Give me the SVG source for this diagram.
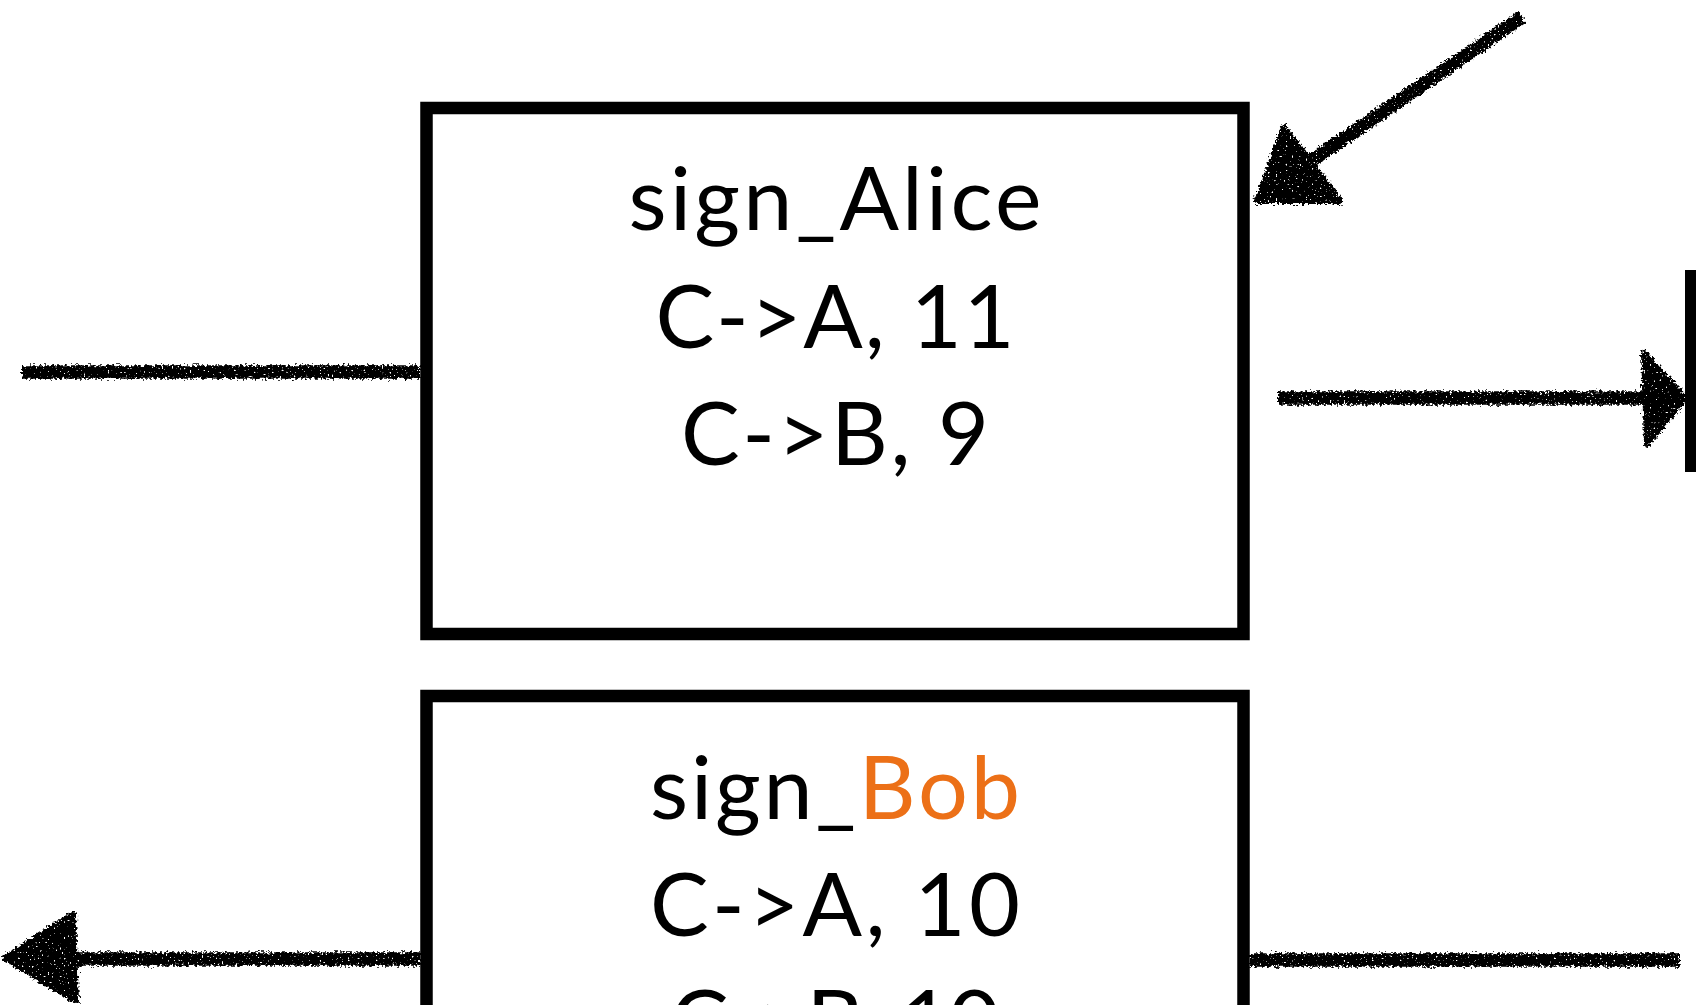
<svg xmlns="http://www.w3.org/2000/svg" width="1696" height="1005" viewBox="0 0 1696 1005">
<style>
  .box { fill: #ffffff; stroke: #000000; stroke-width: 12.5; }
  .lbl { font-family: "Lato", "Open Sans", "Liberation Sans", sans-serif; font-size: 88px; fill: #000000; text-anchor: middle; }
  .orange { fill: #EC7017; }
  .chalk { stroke: #000000; stroke-width: 13.5; stroke-linecap: butt; fill: none; }
  .head { fill: #000000; stroke: #000000; stroke-width: 6; stroke-linejoin: round; }
</style>
<defs>
  <filter id="rough" filterUnits="userSpaceOnUse" x="0" y="0" width="1696" height="1005">
    <feTurbulence type="fractalNoise" baseFrequency="0.4" numOctaves="2" seed="3" result="noise"/>
    <feDisplacementMap in="SourceGraphic" in2="noise" scale="8" xChannelSelector="R" yChannelSelector="G" result="disp"/>
    <feTurbulence type="fractalNoise" baseFrequency="0.5" numOctaves="1" seed="7" result="speck"/>
    <feColorMatrix in="speck" type="matrix" values="0 0 0 0 0  0 0 0 0 0  0 0 0 0 0  18 0 0 0 -12.2" result="holes"/>
    <feComposite in="disp" in2="holes" operator="out"/>
  </filter>
</defs>
<rect width="1696" height="1005" fill="#ffffff"/>

<g id="connectors" filter="url(#rough)">
  <line class="chalk" x1="22" y1="372" x2="420" y2="372"/>
  <line class="chalk" x1="1522" y1="17" x2="1305" y2="165"/>
  <polygon class="head" points="1257,201 1284,127 1340,201"/>
  <line class="chalk" x1="1278" y1="398" x2="1650" y2="398"/>
  <polygon class="head" points="1685,398 1644,353 1647,444"/>
  <line class="chalk" x1="420" y1="959" x2="70" y2="959"/>
  <polygon class="head" points="5,958 73,914 76,1001"/>
  <line class="chalk" x1="1250" y1="960" x2="1680" y2="960"/>
</g>

<g id="node-right-edge">
  <rect x="1685" y="270" width="11" height="202" fill="#000000"/>
</g>

<g id="node-sign-alice">
  <rect class="box" x="426.5" y="108" width="817" height="526"/>
  <text class="lbl" x="835" y="230" textLength="413">sign_Alice</text>
  <text class="lbl" x="835" y="348" textLength="359">C-&gt;A, 11</text>
  <text class="lbl" x="835" y="465" textLength="308">C-&gt;B, 9</text>
</g>

<g id="node-sign-bob">
  <rect class="box" x="426.5" y="696" width="817" height="400"/>
  <text class="lbl" x="835" y="819" textLength="370">sign_<tspan class="orange">Bob</tspan></text>
  <text class="lbl" x="835" y="936" textLength="370">C-&gt;A, 10</text>
  <text class="lbl" x="835" y="1053" textLength="330">C-&gt;B, 10</text>
</g>
</svg>
